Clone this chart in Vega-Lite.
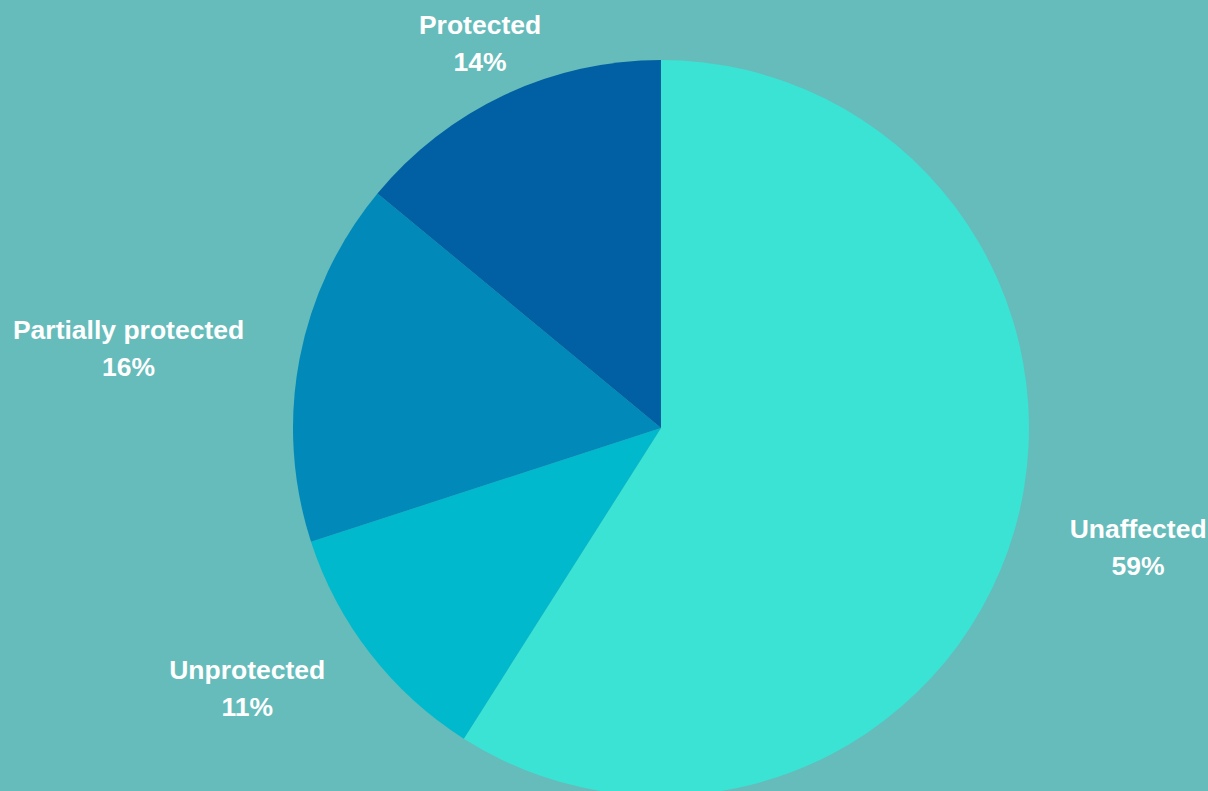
{
  "$schema": "https://vega.github.io/schema/vega-lite/v6.json",
  "width": 1094,
  "height": 726,
  "autosize": {"type": "none"},
  "padding": {"left": 114, "top": 65, "right": 0, "bottom": 0},
  "background": "#66BCBA",
  "view": {"stroke": null},
  "data": {
    "values": [
      {"category": "Unaffected", "value": 59, "rank": 1},
      {"category": "Unprotected", "value": 11, "rank": 2},
      {"category": "Partially protected", "value": 16, "rank": 3},
      {"category": "Protected", "value": 14, "rank": 4}
    ]
  },
  "transform": [
    {"calculate": "[datum.category, datum.value + '%']", "as": "label"}
  ],
  "encoding": {
    "theta": {"field": "value", "type": "quantitative", "stack": true},
    "order": {"field": "rank", "type": "quantitative"}
  },
  "layer": [
    {
      "mark": {"type": "arc", "outerRadius": 368, "stroke": null},
      "encoding": {
        "color": {
          "field": "category",
          "type": "nominal",
          "scale": {
            "domain": ["Unaffected", "Unprotected", "Partially protected", "Protected"],
            "range": ["#3AE3D4", "#00B9CC", "#0089B9", "#0060A3"]
          },
          "legend": null
        }
      }
    },
    {
      "mark": {
        "type": "text",
        "radius": 425,
        "font": "Liberation Sans",
        "fontWeight": "bold",
        "fontSize": 26.5,
        "lineHeight": 37,
        "fill": "#FFFFFF",
        "baseline": "middle",
        "align": "center",
        "dy": -17,
        "dx": {"expr": "datum.category == 'Partially protected' ? -115 : (datum.category == 'Unprotected' ? -78 : (datum.category == 'Unaffected' ? 69 : 0))"}
      },
      "encoding": {
        "text": {"field": "label"}
      }
    }
  ]
}
